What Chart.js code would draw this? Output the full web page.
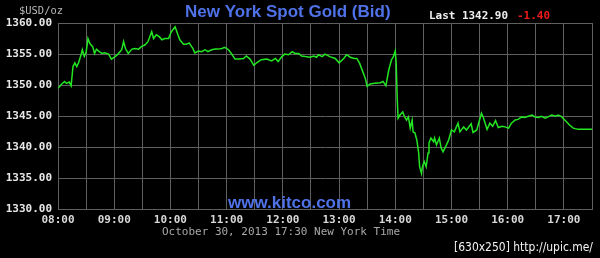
<!DOCTYPE html>
<html>
<head>
<meta charset="utf-8">
<script src="https://cdn.jsdelivr.net/npm/chart.js@4"></script>
<style>
  html, body { margin: 0; padding: 0; background: #000; }
  canvas { display: block; }
</style>
</head>
<body>
<canvas id="gold" width="600" height="258"></canvas>
<script>
// minutes after 08:00 New York time
const mins = [0, 4, 7, 9, 12, 14, 16, 18, 20, 22, 25, 26, 28, 30, 32, 34, 37, 39, 41, 44, 47, 50, 54, 57, 61, 64, 68, 70, 72, 75, 79, 82, 86, 89, 93, 96, 100, 102, 105, 108, 111, 114, 118, 121, 125, 128, 130, 134, 137, 140, 144, 146, 150, 153, 157, 160, 164, 168, 171, 175, 178, 182, 185, 189, 193, 198, 201, 205, 209, 212, 217, 223, 228, 232, 235, 239, 242, 246, 250, 253, 257, 260, 264, 269, 273, 276, 278, 282, 285, 290, 296, 300, 305, 308, 312, 316, 319, 322, 326, 328, 330, 333, 338, 344, 347, 350, 353, 356, 358, 360, 361, 362, 363, 365, 368, 370, 372, 374, 376, 378, 379, 381, 383, 385, 386, 388, 389, 391, 393, 395, 396, 398, 401, 402, 404, 407, 409, 411, 414, 417, 420, 423, 427, 429, 433, 436, 441, 443, 447, 452, 454, 458, 461, 464, 467, 470, 474, 477, 481, 484, 488, 491, 495, 498, 502, 506, 509, 513, 516, 520, 523, 527, 531, 534, 537, 539, 543, 546, 550, 555, 563, 570];
const prices = [1349.5, 1350.2, 1350.6, 1350.3, 1350.5, 1349.9, 1353.0, 1353.6, 1353.0, 1353.6, 1355.1, 1355.7, 1354.6, 1355.3, 1357.5, 1356.7, 1356.2, 1355.1, 1355.8, 1355.4, 1355.1, 1355.2, 1355.0, 1354.2, 1354.6, 1355.0, 1355.7, 1357.0, 1355.9, 1355.1, 1355.8, 1355.9, 1355.8, 1356.2, 1356.5, 1357.0, 1358.6, 1357.5, 1358.1, 1357.8, 1357.3, 1357.5, 1357.5, 1358.6, 1359.4, 1358.1, 1357.3, 1356.6, 1356.6, 1356.8, 1355.9, 1355.2, 1355.5, 1355.4, 1355.7, 1355.4, 1355.7, 1355.8, 1355.8, 1355.9, 1356.1, 1355.7, 1355.1, 1354.2, 1354.2, 1354.3, 1354.7, 1354.2, 1353.2, 1353.6, 1354.1, 1354.2, 1353.9, 1354.3, 1353.8, 1354.6, 1355.0, 1354.9, 1355.4, 1355.1, 1355.1, 1354.7, 1354.6, 1354.5, 1354.7, 1354.5, 1354.9, 1354.6, 1355.0, 1354.6, 1354.3, 1353.6, 1354.3, 1354.9, 1354.5, 1354.3, 1354.3, 1353.5, 1351.9, 1351.1, 1349.8, 1350.2, 1350.3, 1350.4, 1350.6, 1349.9, 1352.4, 1354.1, 1354.6, 1355.5, 1353.5, 1348.2, 1344.7, 1345.2, 1345.7, 1344.9, 1344.4, 1344.9, 1343.1, 1344.4, 1342.5, 1342.3, 1341.2, 1339.1, 1336.9, 1335.8, 1336.9, 1337.7, 1336.9, 1339.1, 1340.7, 1341.5, 1340.9, 1341.5, 1340.4, 1341.5, 1339.9, 1339.3, 1340.2, 1341.2, 1342.8, 1342.5, 1343.9, 1342.5, 1343.3, 1342.8, 1343.8, 1342.4, 1342.8, 1345.5, 1344.8, 1342.9, 1343.9, 1343.4, 1344.3, 1343.2, 1343.4, 1343.3, 1343.1, 1343.9, 1344.4, 1344.5, 1344.9, 1344.8, 1345.0, 1345.2, 1344.9, 1344.8, 1345.0, 1344.7, 1344.9, 1345.2, 1345.0, 1345.2, 1345.0, 1344.7, 1344.1, 1343.6, 1343.1, 1342.9, 1342.9, 1342.9];
const hourLabels = ['08:00', '09:00', '10:00', '11:00', '12:00', '13:00', '14:00', '15:00', '16:00', '17:00'];
const yTicks = [1330, 1335, 1340, 1345, 1350, 1355, 1360];

const title = 'New York Spot Gold (Bid)';
const lastText = 'Last 1342.90';
const changeText = '-1.40';
const dateText = 'October 30, 2013 17:30 New York Time';

const gridColor = 'rgb(95,95,95)';
const mono = '"DejaVu Sans Mono", "Liberation Mono", monospace';

// extra texts around the plot
const textPlugin = {
    id: 'kitcoTexts',
    afterDraw(chart) {
        let ctx = chart.ctx;
        ctx.save();
        ctx.textBaseline = 'middle';

        ctx.fillStyle = '#b8b8b8';
        ctx.font = '11px ' + mono;
        ctx.textAlign = 'left';
        ctx.fillText('$USD/oz', 19, 11, 44);

        ctx.fillStyle = '#4f72e8';
        ctx.font = 'bold 17px "Liberation Sans", Arial, sans-serif';
        ctx.fillText(title, 185, 12, 209);
        ctx.fillText('www.kitco.com', 228, 203, 125);

        ctx.fillStyle = '#f0f0f0';
        ctx.font = 'bold 11px ' + mono;
        ctx.fillText(lastText, 429, 16, 79);
        ctx.fillStyle = '#ee1a1a';
        ctx.fillText(changeText, 517, 16, 33);

        ctx.fillStyle = '#a8a8a8';
        ctx.font = '11px ' + mono;
        ctx.fillText(dateText, 162, 232, 238);

        ctx.fillStyle = '#f4f4f4';
        ctx.font = '13px "DejaVu Sans", sans-serif';
        ctx.fillText('[630x250] http://upic.me/', 454, 248, 139);
        ctx.restore();
    }
};

const data = {
    datasets: [{
        label: 'Gold',
        data: mins.map((m, i) => ({ x: m, y: prices[i] })),
        borderColor: '#22e622',
        borderWidth: 1.5,
        pointRadius: 0,
        tension: 0,
        fill: false
    }]
};

const config = {
    type: 'line',
    data: data,
    options: {
        responsive: false,
        animation: false,
        devicePixelRatio: 1,
        layout: { padding: { top: 23, right: 8, left: 0, bottom: 0 } },
        plugins: { legend: { display: false }, tooltip: { enabled: false } },
        scales: {
            x: {
                type: 'linear',
                min: 0,
                max: 570,
                afterFit: (s) => { s.height = 48.4; },
                grid: { color: gridColor, lineWidth: 1, drawTicks: false },
                border: { color: gridColor },
                ticks: {
                    stepSize: 30,
                    autoSkip: false,
                    maxRotation: 0,
                    padding: 4,
                    color: '#d8d8d8',
                    font: { family: mono, size: 11, weight: 'bold' },
                    callback: (v) => (v % 60 === 0 ? hourLabels[v / 60] : '')
                }
            },
            y: {
                min: yTicks[0],
                max: yTicks[yTicks.length - 1],
                afterFit: (s) => { s.width = 58; },
                afterBuildTicks: (s) => { s.ticks = yTicks.map(v => ({ value: v })); },
                grid: { color: gridColor, lineWidth: 1, drawTicks: false },
                border: { color: gridColor },
                ticks: {
                    padding: 6,
                    color: '#e8e8e8',
                    font: { family: mono, size: 11, weight: 'bold' },
                    callback: (v) => v.toFixed(2)
                }
            }
        }
    },
    plugins: [textPlugin]
};

let ctx = document.getElementById('gold').getContext('2d');
new Chart(ctx, config);
</script>
</body>
</html>
